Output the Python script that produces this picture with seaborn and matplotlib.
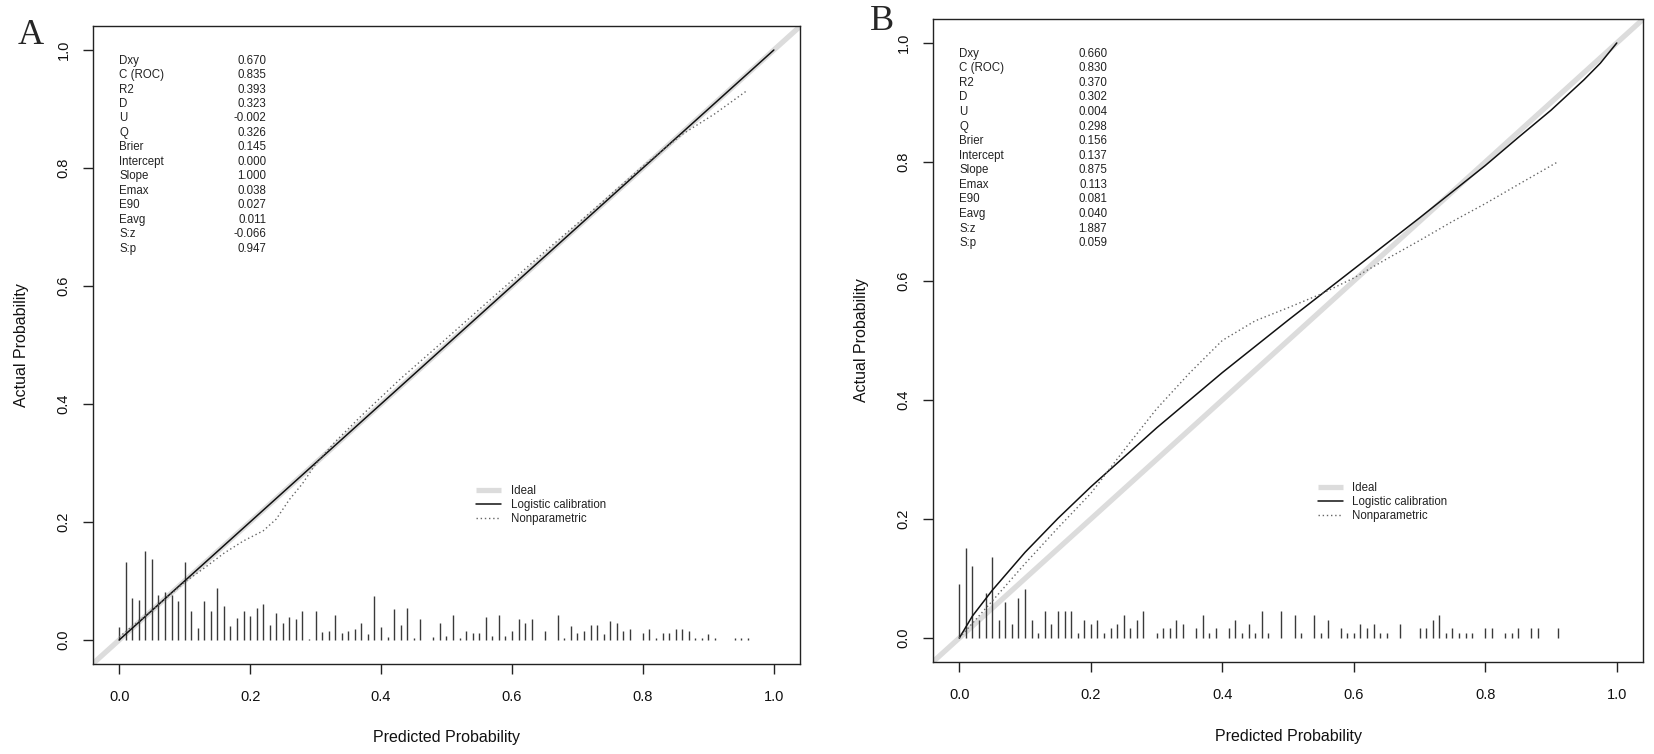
import matplotlib
matplotlib.use("Agg")
import matplotlib.pyplot as plt
import seaborn as sns

# --- data ---
stat_names = ["Dxy", "C (ROC)", "R2", "D", "U", "Q", "Brier", "Intercept",
              "Slope", "Emax", "E90", "Eavg", "S:z", "S:p"]
stats_a = ["0.670", "0.835", "0.393", "0.323", "-0.002", "0.326", "0.145",
           "0.000", "1.000", "0.038", "0.027", "0.011", "-0.066", "0.947"]
stats_b = ["0.660", "0.830", "0.370", "0.302", "0.004", "0.298", "0.156",
           "0.137", "0.875", "0.113", "0.081", "0.040", "1.887", "0.059"]

logistic_a_x = [0.0, 0.25, 0.5, 0.75, 1.0]
logistic_a_y = [0.0, 0.25, 0.5, 0.75, 1.0]
nonpar_a_x = [0.00, 0.05, 0.10, 0.13, 0.16, 0.19, 0.22, 0.24, 0.26, 0.28, 0.30,
              0.33, 0.37, 0.43, 0.50, 0.57, 0.65, 0.72, 0.80, 0.86, 0.91, 0.96]
nonpar_a_y = [0.005, 0.05, 0.098, 0.122, 0.147, 0.168, 0.185, 0.205, 0.238, 0.265,
              0.298, 0.336, 0.380, 0.443, 0.511, 0.580, 0.658, 0.725, 0.803, 0.857,
              0.892, 0.932]

logistic_b_x = [0.0, 0.02, 0.05, 0.10, 0.15, 0.20, 0.30, 0.40, 0.50, 0.60, 0.70,
                0.80, 0.85, 0.90, 0.95, 0.975, 1.0]
logistic_b_y = [0.0, 0.037, 0.080, 0.144, 0.201, 0.254, 0.353, 0.446, 0.534, 0.620,
                0.706, 0.794, 0.841, 0.887, 0.938, 0.966, 1.0]
nonpar_b_x = [0.00, 0.05, 0.10, 0.15, 0.20, 0.25, 0.30, 0.35, 0.40, 0.45, 0.50,
              0.55, 0.60, 0.65, 0.70, 0.75, 0.80, 0.85, 0.91]
nonpar_b_y = [0.000, 0.062, 0.125, 0.185, 0.243, 0.315, 0.385, 0.445, 0.500, 0.533,
              0.555, 0.578, 0.605, 0.637, 0.668, 0.700, 0.730, 0.762, 0.800]

# spike histogram of predicted probabilities
spike_a_x = [0.00, 0.01, 0.02, 0.03, 0.04, 0.05, 0.06, 0.07, 0.08, 0.09, 0.10,
             0.11, 0.12, 0.13, 0.14, 0.15, 0.16, 0.17, 0.18, 0.19, 0.20, 0.21,
             0.22, 0.23, 0.24, 0.25, 0.26, 0.27, 0.28, 0.29, 0.30, 0.31, 0.32,
             0.33, 0.34, 0.35, 0.36, 0.37, 0.38, 0.39, 0.40, 0.41, 0.42, 0.43,
             0.44, 0.45, 0.46, 0.48, 0.49, 0.50, 0.51, 0.52, 0.53, 0.54, 0.55,
             0.56, 0.57, 0.58, 0.59, 0.60, 0.61, 0.62, 0.63, 0.65, 0.67, 0.68,
             0.69, 0.70, 0.71, 0.72, 0.73, 0.74, 0.75, 0.76, 0.77, 0.78, 0.80,
             0.81, 0.82, 0.83, 0.84, 0.85, 0.86, 0.87, 0.88, 0.89, 0.90, 0.91,
             0.94, 0.95, 0.96]
spike_a_h = [0.022, 0.133, 0.071, 0.068, 0.150, 0.137, 0.077, 0.081, 0.077, 0.066, 0.133,
             0.049, 0.020, 0.066, 0.049, 0.088, 0.058, 0.023, 0.038, 0.049, 0.041, 0.055,
             0.061, 0.025, 0.045, 0.029, 0.039, 0.036, 0.049, 0.002, 0.049, 0.014, 0.016,
             0.042, 0.012, 0.016, 0.019, 0.028, 0.010, 0.075, 0.022, 0.005, 0.053, 0.025,
             0.055, 0.003, 0.036, 0.005, 0.028, 0.007, 0.042, 0.003, 0.016, 0.012, 0.012,
             0.039, 0.007, 0.042, 0.007, 0.016, 0.036, 0.029, 0.036, 0.016, 0.042, 0.003,
             0.023, 0.012, 0.016, 0.025, 0.025, 0.010, 0.033, 0.029, 0.016, 0.019, 0.012,
             0.019, 0.003, 0.012, 0.012, 0.019, 0.019, 0.016, 0.003, 0.003, 0.010, 0.003,
             0.003, 0.003, 0.003]

spike_b_x = [0.00, 0.01, 0.02, 0.03, 0.04, 0.05, 0.06, 0.07, 0.08, 0.09, 0.10,
             0.11, 0.12, 0.13, 0.14, 0.15, 0.16, 0.17, 0.18, 0.19, 0.20, 0.21,
             0.22, 0.23, 0.24, 0.25, 0.26, 0.27, 0.28, 0.30, 0.31, 0.32, 0.33,
             0.34, 0.36, 0.37, 0.38, 0.39, 0.41, 0.42, 0.43, 0.44, 0.45, 0.46,
             0.47, 0.49, 0.51, 0.52, 0.54, 0.55, 0.56, 0.58, 0.59, 0.60, 0.61,
             0.62, 0.63, 0.64, 0.65, 0.67, 0.70, 0.71, 0.72, 0.73, 0.74, 0.75,
             0.76, 0.77, 0.78, 0.80, 0.81, 0.83, 0.84, 0.85, 0.87, 0.88, 0.91]
spike_b_h = [0.090, 0.151, 0.121, 0.031, 0.075, 0.136, 0.031, 0.060, 0.023, 0.068, 0.083,
             0.031, 0.008, 0.046, 0.023, 0.046, 0.046, 0.046, 0.008, 0.031, 0.023, 0.031,
             0.008, 0.016, 0.023, 0.039, 0.016, 0.031, 0.046, 0.008, 0.016, 0.016, 0.031,
             0.023, 0.016, 0.039, 0.008, 0.016, 0.016, 0.031, 0.008, 0.023, 0.008, 0.046,
             0.008, 0.046, 0.039, 0.008, 0.039, 0.008, 0.031, 0.016, 0.008, 0.008, 0.023,
             0.016, 0.023, 0.008, 0.008, 0.023, 0.016, 0.016, 0.031, 0.039, 0.008, 0.016,
             0.008, 0.008, 0.008, 0.016, 0.016, 0.008, 0.008, 0.016, 0.016, 0.016, 0.016]

ticks = [0.0, 0.2, 0.4, 0.6, 0.8, 1.0]

sns.set_theme(style="ticks")
plt.rcParams["font.family"] = ["Liberation Sans", "DejaVu Sans"]

fig = plt.figure(figsize=(16.54, 7.54), dpi=100)
ax_a = fig.add_axes([0.0562, 0.1199, 0.4275, 0.8451])
ax_b = fig.add_axes([0.5641, 0.1223, 0.4293, 0.8523])

panels = [
    (ax_a, "A", stats_a, logistic_a_x, logistic_a_y, nonpar_a_x, nonpar_a_y,
     spike_a_x, spike_a_h, (31 / 1654, 1 - 35 / 754)),
    (ax_b, "B", stats_b, logistic_b_x, logistic_b_y, nonpar_b_x, nonpar_b_y,
     spike_b_x, spike_b_h, (882 / 1654, 1 - 22 / 754)),
]

for ax, letter, stats, lx, ly, nx, ny, sx, sh, letter_pos in panels:
    # ideal diagonal runs corner to corner
    ax.axline((0, 0), (1, 1), color="#dcdcdc", lw=3.8, label="Ideal",
              solid_capstyle="butt", zorder=1)
    sns.lineplot(x=lx, y=ly, ax=ax, color="#111111", lw=1.1,
                 label="Logistic calibration", sort=False, estimator=None, zorder=3)
    sns.lineplot(x=nx, y=ny, ax=ax, color="#666666", lw=1.0,
                 linestyle=(0, (1, 2)), label="Nonparametric",
                 sort=False, estimator=None, zorder=3)
    ax.vlines(sx, 0, sh, color="#3a3a3a", lw=1.0, zorder=2)

    ax.set_xlim(-0.04, 1.04)
    ax.set_ylim(-0.04, 1.04)
    ax.set_xticks(ticks)
    ax.set_yticks(ticks)
    ax.set_xticklabels([f"{t:.1f}" for t in ticks])
    ax.set_yticklabels([f"{t:.1f}" for t in ticks], rotation=90, va="center")
    for side in ["top", "right", "bottom", "left"]:
        ax.spines[side].set_visible(True)
        ax.spines[side].set_color("#222222")
        ax.spines[side].set_linewidth(1.0)
    ax.tick_params(axis="both", direction="out", length=7, width=1.0,
                   color="#222222", labelsize=10.5, labelcolor="#111111")
    ax.tick_params(axis="x", pad=12)
    ax.tick_params(axis="y", pad=9)
    ax.set_xlabel("Predicted Probability", fontsize=11.5, labelpad=19, color="#111111")
    ax.set_ylabel("Actual Probability", fontsize=11.5, labelpad=20, color="#111111")

    # statistics block in the upper left
    for i, (name, val) in enumerate(zip(stat_names, stats)):
        y = 0.982 - i * 0.0245
        ax.text(0.0, y, name, fontsize=8.3, ha="left", va="center", color="#222222")
        ax.text(0.225, y, val, fontsize=8.3, ha="right", va="center", color="#222222")

    leg = ax.legend(loc="upper left", bbox_to_anchor=(0.545, 0.262),
                    bbox_transform=ax.transData, frameon=False, fontsize=8.3,
                    handlelength=2.2, handletextpad=0.8, labelspacing=0.15,
                    borderpad=0, borderaxespad=0)
    for t in leg.get_texts():
        t.set_color("#222222")

    fig.text(letter_pos[0], letter_pos[1], letter, family=["Liberation Serif", "DejaVu Serif"],
             fontsize=26, ha="center", va="center")

fig.savefig("out.png", dpi=100, facecolor="white")
